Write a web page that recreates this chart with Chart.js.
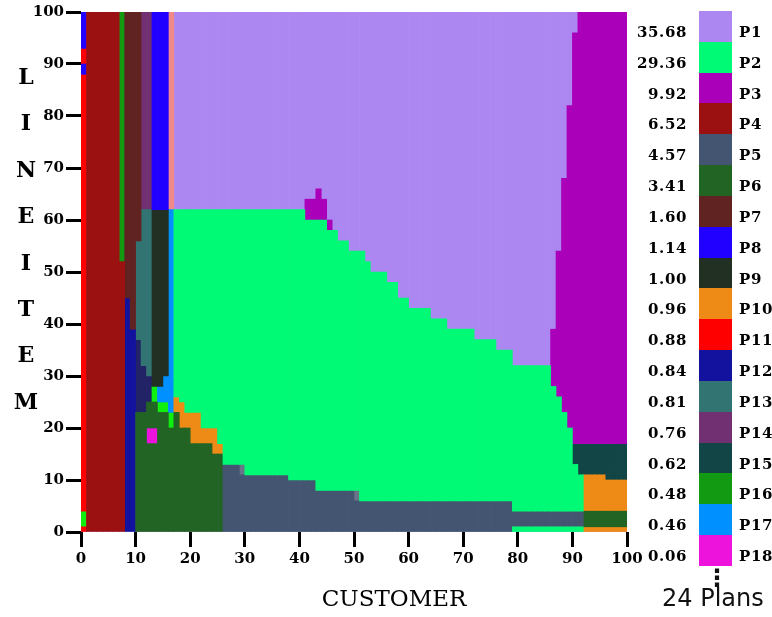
<!DOCTYPE html>
<html>
<head>
<meta charset="utf-8">
<script src="https://cdn.jsdelivr.net/npm/chart.js@4/dist/chart.umd.min.js"></script>
<style>
  html, body { margin: 0; padding: 0; background: #fff; }
  #wrap { position: relative; width: 772px; height: 617px; overflow: hidden; }
  #plan { position: absolute; left: 0; top: 0; }
  .serif { position: absolute; font-family: 'DejaVu Serif', 'Liberation Serif', serif; color: #000; white-space: nowrap; }
  .box { position: absolute; }
  .sans { position: absolute; font-family: 'DejaVu Sans', sans-serif; color: #111; white-space: nowrap; }
</style>
</head>
<body>
<div id="wrap">
  <canvas id="plan" width="772" height="617"></canvas>
</div>
<script>
// Legend: plan names and their costs
const planNames = ['P1','P2','P3','P4','P5','P6','P7','P8','P9','P10','P11','P12','P13','P14','P15','P16','P17','P18'];
const planCosts = ['35.68','29.36','9.92','6.52','4.57','3.41','1.60','1.14','1.00','0.96','0.88','0.84','0.81','0.76','0.62','0.48','0.46','0.06'];
const planCount = 24;

// Axis range and tick step (selectivity, percent)
const axisMin = 0;
const axisMax = 100;
const tickStep = 10;

// Plan regions as column runs: [firstColumn, endColumn, lowLineitem, highLineitem]
const P1 = [[0,100,0,100]];
const P2 = [
  [17,18,26,62],[18,19,25,62],[19,22,23,62],[22,25,20,62],[25,26,17,62],
  [26,30,13,62],[30,38,11,62],[38,41,10,62],[41,43,10,60],[43,45,8,60],
  [45,47,8,58],[47,49,8,56],[49,51,8,54],[51,52,6,54],[52,53,6,52],
  [53,56,6,50],[56,58,6,48],[58,60,6,45],[60,64,6,43],[64,67,6,41],
  [67,72,6,39],[72,76,6,37],[76,79,6,35],[79,86,4,32],[86,87,4,28],
  [87,88,4,26],[88,89,4,23],[89,90,4,20],[90,91,4,13],[91,92,4,11],
  [79,92,0,1]
];
const P3 = [[86,87,28,39],[87,88,26,54],[88,89,23,68],[89,90,20,82],[90,91,17,96],[91,100,17,100],
            [41,45,60,64],[43,44,64,66],[45,46,58,60]];
const P4 = [[1,7,0,100],[7,8,0,52]];
const P5 = [[26,29,0,13],[29,38,0,11],[38,43,0,10],[43,50,0,8],[50,79,0,6],[79,92,1,4]];
const P6 = [[10,12,0,23],[12,14,0,17],[12,14,20,25],[14,16,0,23],[16,17,0,20],[17,18,0,23],
            [18,20,0,20],[20,24,0,17],[24,26,0,15],[92,100,1,4]];
const P7 = [[8,9,45,100],[9,10,39,100],[10,11,56,100]];
const P8 = [[0,1,88,90],[0,1,93,100],[13,16,62,100]];
const P9 = [[13,15,28,62],[15,16,30,62]];
const P10 = [[17,18,23,26],[18,19,20,25],[19,20,20,23],[20,22,17,23],[22,24,17,20],[24,25,15,20],
             [25,26,15,17],[92,96,4,11],[96,100,4,10],[92,100,0,1]];
const P11 = [[0,1,0,1],[0,1,4,88],[0,1,90,93]];
const P12 = [[8,9,0,45],[9,10,0,39]];
const P13 = [[10,11,37,56],[11,12,32,62],[12,13,30,62]];
const P14 = [[11,13,62,100]];
const P15 = [[90,100,13,17],[91,96,11,13],[96,100,10,13]];
const P16 = [[7,8,52,100]];
const P17 = [[14,15,25,28],[15,16,25,30],[16,17,23,62]];
const P18 = [[12,14,17,20]];
const P19 = [[0,1,1,4],[13,14,25,28],[14,16,23,25],[16,17,20,23]];
const P20 = [[10,11,23,37],[11,12,23,32],[12,13,25,30]];
const P21 = [[16,17,62,100]];
const P22 = [[29,30,11,13],[50,51,6,8]];

const regionList = [P1,P2,P3,P4,P5,P6,P7,P8,P9,P10,P11,P12,P13,P14,P15,P16,P17,P18,P19,P20,P21,P22];

// Plan colours
const planColors = [
  '#AD87F1','#00FA76','#AB00B9','#9B1111','#445571','#226424','#612222','#2200FF','#213023',
  '#EE8A16','#FF0000','#12129F','#327472','#713071','#124545','#129A12','#0090FF','#EE12DD',
  '#10F010','#222266','#F08A8A','#6A7488'
];

// One floating bar per grid column of a run
function runsToBars(runs) {
  const bars = [];
  for (const [c0, c1, lo, hi] of runs) {
    for (let c = c0; c < c1; c++) bars.push({ x: c + 0.5, y: [lo, hi] });
  }
  return bars;
}

const datasets = regionList.map((runs, i) => ({
  label: 'P' + (i + 1),
  data: runsToBars(runs),
  backgroundColor: planColors[i],
  borderWidth: 0,
  barPercentage: 1,
  categoryPercentage: 1,
  grouped: false,
  order: i === 0 ? 2 : 0
}));

const tickFont = { family: "'DejaVu Serif', 'Liberation Serif', serif", size: 15, weight: 'bold' };

new Chart(document.getElementById('plan'), {
  type: 'bar',
  data: { datasets },
  options: {
    responsive: false,
    animation: false,
    events: [],
    layout: { padding: { left: 0, top: 12, right: 145, bottom: 0 } },
    plugins: { legend: { display: false }, tooltip: { enabled: false }, title: { display: false } },
    scales: {
      x: {
        type: 'linear',
        min: axisMin, max: axisMax,
        offset: false,
        afterFit: (s) => { s.height = 85; },
        ticks: { stepSize: tickStep, autoSkip: false, maxRotation: 0, color: '#000', font: tickFont, padding: 3 },
        grid: { offset: false, drawOnChartArea: false, drawTicks: true, tickLength: 15, tickWidth: 3, tickColor: '#000' },
        border: { display: false }
      },
      y: {
        type: 'linear',
        min: axisMin, max: axisMax,
        afterFit: (s) => { s.width = 81; },
        ticks: { stepSize: tickStep, color: '#000', font: tickFont, padding: 2 },
        grid: { drawOnChartArea: false, drawTicks: true, tickLength: 15, tickWidth: 3, tickColor: '#000' },
        border: { display: false }
      }
    }
  }
});

// Axis titles, legend column and plan count
const wrap = document.getElementById('wrap');
function addEl(cls, text, css) {
  const d = document.createElement('div');
  d.className = cls;
  if (text !== null) d.textContent = text;
  Object.assign(d.style, css);
  wrap.appendChild(d);
  return d;
}

addEl('serif', 'CUSTOMER', { left: '274px', width: '240px', top: '583px', textAlign: 'center', fontSize: '23px', lineHeight: '30px' });

const yTitle = 'LINEITEM';
for (let i = 0; i < yTitle.length; i++) {
  addEl('serif', yTitle[i], {
    left: '6px', width: '40px', textAlign: 'center',
    top: (53 + i * 46.4) + 'px', height: '46px', lineHeight: '46px',
    fontSize: '22px', fontWeight: 'bold'
  });
}

const rowTop = 11, rowH = 30.83;
planNames.forEach((name, i) => {
  const top = Math.round(rowTop + i * rowH);
  const next = Math.round(rowTop + (i + 1) * rowH);
  addEl('box', null, { left: '699px', top: top + 'px', width: '33px', height: (next - top) + 'px', background: planColors[i] });
  addEl('serif', planCosts[i], { left: '600px', width: '87px', textAlign: 'right', top: (top + 12) + 'px', fontSize: '15px', lineHeight: '18px', fontWeight: 'bold', letterSpacing: '0.6px' });
  addEl('serif', name, { left: '739px', top: (top + 12) + 'px', fontSize: '15px', lineHeight: '18px', fontWeight: 'bold', letterSpacing: '0.6px' });
});

addEl('sans', '\u22EE', { left: '705px', width: '20px', textAlign: 'center', top: '565px', fontSize: '24px', lineHeight: '26px', fontWeight: 'bold' });
addEl('sans', planCount + ' Plans', { left: '662px', top: '584px', fontSize: '24px', lineHeight: '28px' });
</script>
</body>
</html>
